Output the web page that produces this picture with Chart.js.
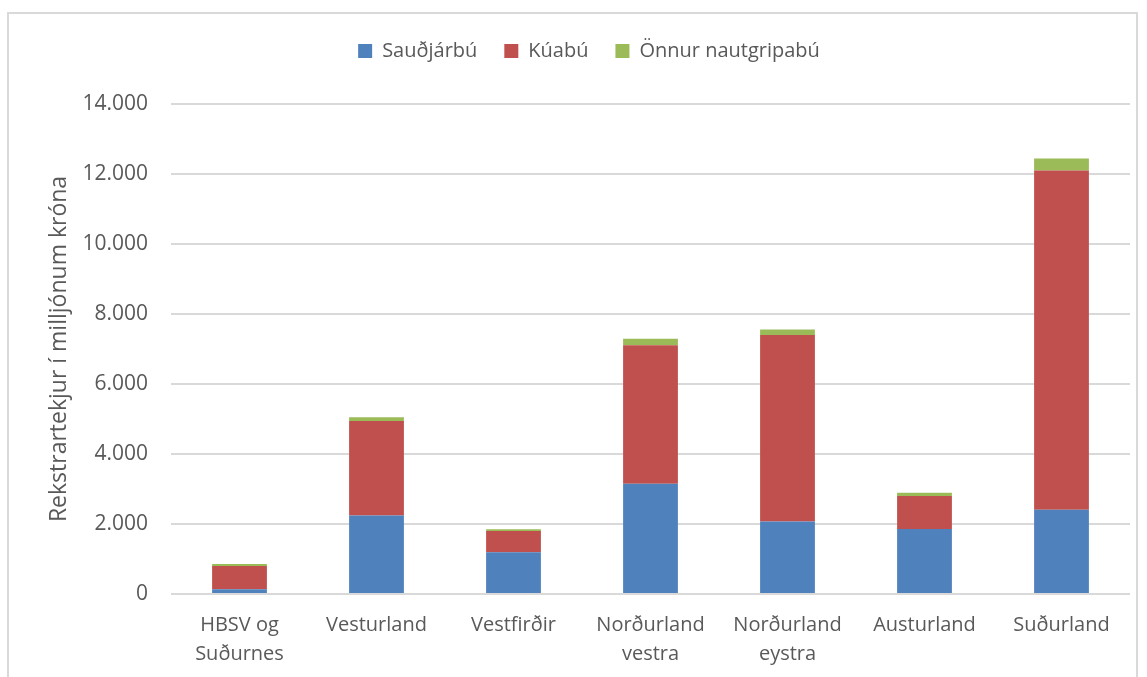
<!DOCTYPE html>
<html>
<head>
<meta charset="utf-8">
<script src="https://cdn.jsdelivr.net/npm/chart.js@4"></script>
<style>
  html, body { margin: 0; padding: 0; background: #fff; overflow: hidden; }
  #frame { position: absolute; left: 7px; top: 12px; width: 1131px; height: 700px; border: 2px solid #d9d9d9; box-sizing: border-box; }
  #c { position: absolute; left: 0; top: 0; }
</style>
</head>
<body>
<div id="frame"></div>
<canvas id="c" width="1147" height="677"></canvas>
<script>
const categories = [["HBSV og", "Suðurnes"], "Vesturland", "Vestfirðir", ["Norðurland", "vestra"], ["Norðurland", "eystra"], "Austurland", "Suðurland"];
const seriesNames = ["Sauðjárbú", "Kúabú", "Önnur nautgripabú"];
const saudfjarbu = [135, 2240, 1190, 3150, 2070, 1860, 2410];
const kuabu = [665, 2700, 610, 3960, 5330, 940, 9690];
const onnur = [55, 110, 50, 180, 160, 90, 340];
const yTicks = [0, 2000, 4000, 6000, 8000, 10000, 12000, 14000];
const yTitle = "Rekstrartekjur í milljónum króna";

const textColor = "#595959";
const fmt = v => String(v).replace(/\B(?=(\d{3})+(?!\d))/g, ".");

const legendTweak = {
  id: "legendTweak",
  beforeLayout(chart) {
    const lg = chart.legend;
    if (lg && !lg._patched) {
      const orig = lg.fit;
      lg.fit = function () { orig.call(this); this.height += 33; };
      lg._patched = true;
    }
  },
  afterLayout(chart) {
    if (chart.legend) { chart.legend.left += 24; chart.legend.right += 24; }
  }
};

new Chart(document.getElementById("c"), {
  type: "bar",
  data: {
    labels: categories,
    datasets: [
      { label: seriesNames[0], data: saudfjarbu, backgroundColor: "#4F81BD" },
      { label: seriesNames[1], data: kuabu, backgroundColor: "#C0504D" },
      { label: seriesNames[2], data: onnur, backgroundColor: "#9BBB59" }
    ]
  },
  options: {
    responsive: false,
    animation: false,
    devicePixelRatio: 1,
    layout: { padding: { top: 14, right: 17, bottom: 0, left: 0 } },
    datasets: { bar: { barPercentage: 0.4, categoryPercentage: 1.0 } },
    plugins: {
      legend: {
        position: "top",
        labels: {
          boxWidth: 14, boxHeight: 14, padding: 27,
          color: textColor,
          font: { family: "'Open Sans'", size: 20 }
        }
      },
      tooltip: { enabled: false }
    },
    scales: {
      x: {
        stacked: true,
        grid: { display: false },
        border: { display: false },
        ticks: { color: textColor, padding: 9, maxRotation: 0, font: { family: "'Open Sans'", size: 20, lineHeight: 1.45 } },
        afterFit(s) { s.height = 83; }
      },
      y: {
        stacked: true,
        min: 0, max: 14000,
        afterBuildTicks(s) { s.ticks = yTicks.map(v => ({ value: v })); },
        grid: { color: "#d9d9d9", lineWidth: 2, drawTicks: false },
        border: { display: false },
        ticks: { color: textColor, padding: 23, callback: v => fmt(v), font: { family: "'Open Sans'", size: 21 } },
        title: { display: true, text: yTitle, color: textColor, padding: { top: 46, bottom: 0 }, font: { family: "'Open Sans'", size: 23 } },
        afterFit(s) { s.width = 171; }
      }
    }
  },
  plugins: [legendTweak]
});
</script>
</body>
</html>
